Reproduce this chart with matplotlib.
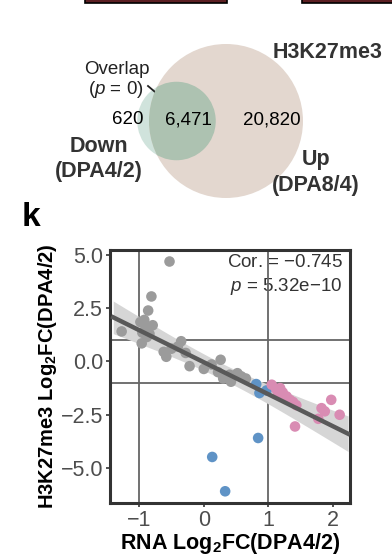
#!/usr/bin/python3

import numpy as np

import matplotlib
matplotlib.use('Agg')
from matplotlib import pyplot as plt
from matplotlib import patches as mpatches

plt.rcParams['font.family'] = ['Liberation Sans', 'DejaVu Sans']
plt.rcParams['mathtext.fontset'] = 'custom'
plt.rcParams['mathtext.rm'] = 'Liberation Sans'
plt.rcParams['mathtext.it'] = 'Liberation Sans:italic'
plt.rcParams['mathtext.bf'] = 'Liberation Sans:bold'

# Venn counts
venn_down_only = 620
venn_overlap   = 6471
venn_up_only   = 20820

# Scatter data: RNA log2FC vs H3K27me3 log2FC
gray_x = [-1.27, -0.53, -0.81, -0.86, -0.92, -0.79, -0.95, -0.88, -0.96, -0.90,
          -0.84, -0.98, -0.62, -0.58, -0.50, -0.35, -0.40, -0.28, -0.22,  0.00,
           0.26,  0.22,  0.40,  0.52,  0.58,  0.42,  0.65,  0.30,  0.12]
gray_y = [ 1.41,  4.69,  3.05,  2.39,  1.95,  1.70,  1.35,  1.15,  0.85,  1.60,
           1.30,  1.85,  0.45,  0.22,  0.60,  0.95,  0.70,  0.40, -0.22, -0.35,
           0.08, -0.50, -0.62, -0.55, -0.70, -0.95, -0.80, -0.80, -0.14]
blue_x = [0.81, 0.86, 0.97, 0.84, 0.13, 0.33]
blue_y = [-1.06, -1.48, -1.36, -3.59, -4.48, -6.09]
pink_x = [1.05, 1.12, 1.18, 1.15, 1.22, 1.28, 1.33, 1.38, 1.43, 1.97,
          1.82, 1.87, 1.77, 2.10, 1.41]
pink_y = [-1.09, -1.30, -1.25, -1.56, -1.45, -1.64, -1.80, -1.90, -2.05, -1.80,
          -2.19, -2.34, -2.69, -2.50, -3.05]
cor_text = r'Cor. = $-$0.745'
p_text   = r'$p$ = 5.32e$-$10'

def main():

    fig = plt.figure(figsize=(3.92, 5.58), dpi=100)

    # Overlay in pixel coordinates for the Venn diagram and decorations
    ov = fig.add_axes([0, 0, 1, 1])
    ov.set_xlim(0, 392)
    ov.set_ylim(558, 0)
    ov.axis('off')

    # Cut-off boxes from the panel above
    for x0, x1 in [(85, 227), (302, 400)]:
        ov.add_patch(mpatches.Rectangle((x0, -10), x1 - x0, 12.5,
                                        facecolor='#5c1f22', edgecolor='black',
                                        linewidth=1.2))

    # Venn circles, area proportional to counts
    r_big   = 77.0
    r_small = r_big * np.sqrt((venn_down_only + venn_overlap) /
                              (venn_overlap + venn_up_only))
    c_big   = (226, 121)
    c_small = (176.5, 121)
    small_bg = mpatches.Circle(c_small, r_small, facecolor='#d0e3dc',
                               edgecolor='none', zorder=1)
    big = mpatches.Circle(c_big, r_big, facecolor='#e3d7cf',
                          edgecolor='none', zorder=2)
    inter = mpatches.Circle(c_small, r_small, facecolor='#adc2b1',
                            edgecolor='none', zorder=3)
    ov.add_patch(small_bg)
    ov.add_patch(big)
    ov.add_patch(inter)
    inter.set_clip_path(big)

    ov.text(328, 52, 'H3K27me3', fontsize=15.5, fontweight='bold',
            color='#333333', ha='center', va='center')
    ov.text(117, 70, 'Overlap', fontsize=13.5, color='#222222',
            ha='center', va='center')
    ov.text(116, 90, r'($p$ = 0)', fontsize=13.5, color='#222222',
            ha='center', va='center')
    ov.plot([148, 161], [86, 97], color='#222222', linewidth=1.3)
    ov.text(128, 120, '{:,}'.format(venn_down_only), fontsize=13.5,
            color='black', ha='center', va='center')
    ov.text(188, 120, '{:,}'.format(venn_overlap), fontsize=13.5,
            color='black', ha='center', va='center', zorder=5)
    ov.text(272, 120, '{:,}'.format(venn_up_only), fontsize=13.5,
            color='black', ha='center', va='center', zorder=5)
    ov.text(99, 147, 'Down', fontsize=15.5, fontweight='bold',
            color='#333333', ha='center', va='center')
    ov.text(99, 171, '(DPA4/2)', fontsize=15.5, fontweight='bold',
            color='#333333', ha='center', va='center')
    ov.text(316, 160, 'Up', fontsize=15.5, fontweight='bold',
            color='#333333', ha='center', va='center', zorder=5)
    ov.text(316, 186, '(DPA8/4)', fontsize=15.5, fontweight='bold',
            color='#333333', ha='center', va='center', zorder=5)
    ov.text(31, 218, 'k', fontsize=24, fontweight='bold',
            color='black', ha='center', va='center')

    # Scatter panel
    ax = fig.add_axes([110 / 392, 1 - 503 / 558, 240 / 392, 253 / 558])
    ax.set_zorder(2)
    ax.set_xlim(-1.45, 2.26)
    ax.set_ylim(-6.64, 5.23)

    for v in [-1, 1]:
        ax.axvline(v, color='#666666', linewidth=1.3, zorder=1)
        ax.axhline(v, color='#666666', linewidth=1.3, zorder=1)

    # Linear fit with confidence band
    all_x = np.array(gray_x + blue_x + pink_x)
    all_y = np.array(gray_y + blue_y + pink_y)
    n = len(all_x)
    slope, intercept = np.polyfit(all_x, all_y, 1)
    resid = all_y - (slope * all_x + intercept)
    s_err = np.sqrt(np.sum(resid ** 2) / (n - 2))
    xfit = np.linspace(all_x.min() - 0.13, all_x.max() + 0.13, 100)
    yfit = slope * xfit + intercept
    half = 2.0 * s_err * np.sqrt(1 / n + (xfit - all_x.mean()) ** 2 /
                                 np.sum((all_x - all_x.mean()) ** 2))
    ax.fill_between(xfit, yfit - half, yfit + half, color='#d6d6d6',
                    linewidth=0, zorder=2)

    ax.scatter(gray_x, gray_y, s=58, color='#9b9b9b', edgecolors='none',
               zorder=3)
    ax.scatter(blue_x, blue_y, s=58, color='#5f93c6', edgecolors='none',
               zorder=3)
    ax.scatter(pink_x, pink_y, s=58, color='#d98cb3', edgecolors='none',
               zorder=3)
    ax.plot(xfit, yfit, color='#595959', linewidth=3.2, zorder=4)

    ax.text(0.97, 0.95, cor_text, transform=ax.transAxes, fontsize=13.5,
            color='#333333', ha='right', va='center', zorder=0.5)
    ax.text(0.97, 0.855, p_text, transform=ax.transAxes, fontsize=13.5,
            color='#333333', ha='right', va='center', zorder=0.5)

    ax.set_xticks([-1, 0, 1, 2])
    ax.set_yticks([5.0, 2.5, 0.0, -2.5, -5.0])
    ax.set_yticklabels(['5.0', '2.5', '0.0', '\u22122.5', '\u22125.0'])
    ax.set_xticklabels(['\u22121', '0', '1', '2'])
    ax.tick_params(labelsize=15.5, labelcolor='#4d4d4d', color='#333333',
                   length=3, width=1.2, pad=2)
    for sp in ax.spines.values():
        sp.set_linewidth(2.2)
        sp.set_color('#333333')

    ax.set_xlabel(r'RNA Log$_\mathbf{2}$FC(DPA4/2)', fontsize=15.5,
                  fontweight='bold', labelpad=0)
    ax.set_ylabel(r'H3K27me3 Log$_\mathbf{2}$FC(DPA4/2)', fontsize=14.5,
                  fontweight='bold', labelpad=1)

    fig.savefig('out.png', dpi=100)
    plt.close()

if __name__ == '__main__': main()
